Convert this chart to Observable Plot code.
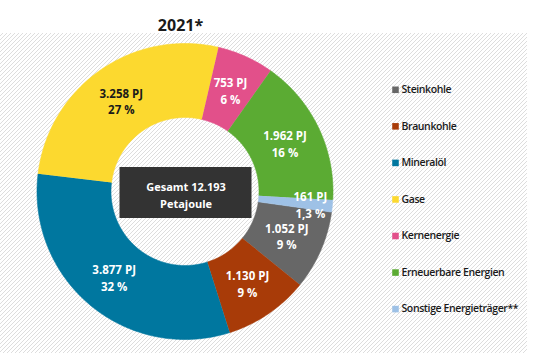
<!DOCTYPE html>
<html>
<head>
<meta charset="utf-8">
<script src="https://cdn.jsdelivr.net/npm/d3@7"></script>
<script src="https://cdn.jsdelivr.net/npm/@observablehq/plot@0.6"></script>
<style>
  html, body { margin: 0; padding: 0; background: #ffffff; }
  #chart svg { display: block; }
</style>
</head>
<body>
<div id="chart"></div>
<script>
// ---- data ----
const title = "2021*";
const categories = ["Steinkohle", "Braunkohle", "Mineralöl", "Gase", "Kernenergie", "Erneuerbare Energien", "Sonstige Energieträger**"];
const values = [1052, 1130, 3877, 3258, 753, 1962, 161];
const percentLabels = ["9 %", "9 %", "32 %", "27 %", "6 %", "16 %", "1,3 %"];
const colors = ["#676767", "#a83b08", "#00779f", "#fcd92f", "#e2508a", "#5bab33", "#9ec1e6"];
const labelColors = ["#ffffff", "#ffffff", "#ffffff", "#1a1a1a", "#ffffff", "#ffffff", "#ffffff"];
const totalLines = ["Gesamt 12.193", "Petajoule"];

// ---- layout ----
const W = 533, H = 353;
const cx = 184.5, cy = 191, rOuter = 148, rInner = 74;
const startDeg = 98;
const bg = {x1: 0, x2: 527, y1: 33, y2: 353};
const legendX = 395, legendY0 = 89.3, legendStep = 36.55;
const font = "'Open Sans', 'DejaVu Sans', sans-serif";

const de = d3.formatLocale({decimal: ",", thousands: ".", grouping: [3], currency: ["", " €"]});
const fmt = de.format(",");

const start = startDeg * Math.PI / 180;
const arcs = d3.pie().sort(null).startAngle(start).endAngle(start + 2 * Math.PI)(values);

const slicePts = [];
arcs.forEach((a, i) => {
  const n = Math.max(2, Math.ceil((a.endAngle - a.startAngle) / 0.01) + 1);
  for (let k = 0; k < n; k++) {
    const t = a.startAngle + (a.endAngle - a.startAngle) * k / (n - 1);
    slicePts.push({name: categories[i], color: colors[i], x: cx + rOuter * Math.sin(t), y: cy - rOuter * Math.cos(t)});
  }
  for (let k = n - 1; k >= 0; k--) {
    const t = a.startAngle + (a.endAngle - a.startAngle) * k / (n - 1);
    slicePts.push({name: categories[i], color: colors[i], x: cx + rInner * Math.sin(t), y: cy - rInner * Math.cos(t)});
  }
});

// label at the ring's middle; very thin slices get their label pushed outward
const total = d3.sum(values);
const labels = arcs.map((a, i) => {
  const mid = (a.startAngle + a.endAngle) / 2;
  const r = values[i] / total < 0.03 ? rOuter - 22 : (rInner + rOuter) / 2;
  return {x: cx + r * Math.sin(mid), y: cy - r * Math.cos(mid), text: fmt(values[i]) + " PJ\n" + percentLabels[i], color: labelColors[i]};
});

const legend = categories.map((c, i) => ({name: c, color: colors[i], y: legendY0 + i * legendStep}));

const chart = Plot.plot({
  width: W,
  height: H,
  margin: 0,
  x: {domain: [0, W], range: [0, W], axis: null},
  y: {domain: [0, H], range: [0, H], axis: null},
  color: {type: "identity"},
  style: {fontFamily: font, background: "#ffffff"},
  marks: [
    Plot.rect([bg], {x1: "x1", x2: "x2", y1: "y1", y2: "y2", fill: () => "url(#hatch)"}),
    Plot.line(slicePts, {x: "x", y: "y", z: "name", fill: "color", stroke: "color", strokeWidth: 0.6, curve: "linear"}),
    Plot.text(labels, {x: "x", y: "y", text: "text", fill: "color", fontSize: 11.5, fontWeight: 700, lineHeight: 1.45, textAnchor: "middle"}),
    Plot.rect([{}], {x1: () => cx - 65, x2: () => cx + 67, y1: () => cy - 24, y2: () => cy + 27, fill: "#333333"}),
    Plot.text([totalLines.join("\n")], {x: () => cx + 1, y: () => cy + 2.5, text: d => d, fill: "#ffffff", fontSize: 11, fontWeight: 700, lineHeight: 1.55, textAnchor: "middle"}),
    Plot.text([title], {x: () => 180, y: () => 25, text: d => d, fill: "#1a1a1a", fontSize: 16, fontWeight: 700, textAnchor: "middle"}),
    Plot.dot(legend, {x: () => legendX, y: "y", symbol: "square", r: 3.7, fill: "color", stroke: null}),
    Plot.text(legend, {x: () => legendX + 6, y: "y", text: "name", fill: "#1a1a1a", fontSize: 10.5, fontWeight: 600, textAnchor: "start"})
  ]
});

const defs = d3.select(chart).insert("defs", ":first-child");
const pat = defs.append("pattern").attr("id", "hatch").attr("patternUnits", "userSpaceOnUse").attr("width", 4).attr("height", 4);
pat.append("rect").attr("width", 4).attr("height", 4).attr("fill", "#ffffff");
pat.append("path").attr("d", "M-1,1 l2,-2 M0,4 l4,-4 M3,5 l2,-2").attr("stroke", "#dddddd").attr("stroke-width", 1);

// condensed look of the legend labels
const textGroups = d3.select(chart).selectAll('g[aria-label="text"]').nodes();
d3.select(textGroups[textGroups.length - 1]).style("letter-spacing", "-0.4px");

document.getElementById("chart").appendChild(chart);
</script>
</body>
</html>
